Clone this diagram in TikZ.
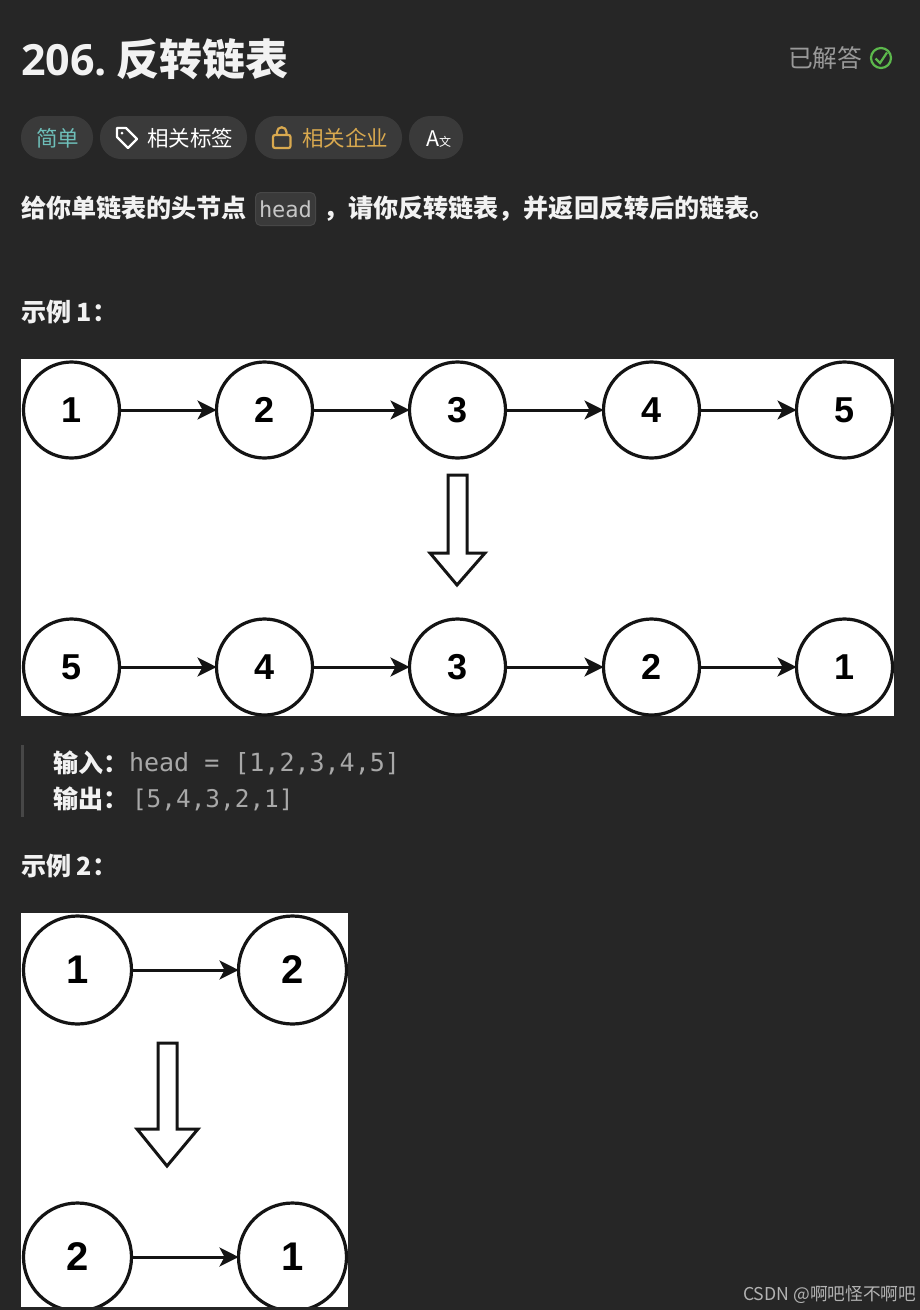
\documentclass[tikz,border=0pt]{standalone}
\usepackage{fontspec}
\setmainfont{Noto Sans CJK SC}
\setmonofont{DejaVu Sans Mono}
\newfontfamily\digitfont{Liberation Sans}
\newfontfamily\latinfont{Open Sans}
\usepackage{xcolor}
\usetikzlibrary{arrows.meta,positioning}
\definecolor{pagebg}{HTML}{262626}
\definecolor{pillbg}{HTML}{3A3A3A}
\definecolor{easyteal}{HTML}{6EBFBA}
\definecolor{lockgold}{HTML}{D9A94F}
\definecolor{donegreen}{HTML}{5CB84C}
\begin{document}
\begin{tikzpicture}[
  x=1pt, y=-1pt,
  >=Stealth,
  every node/.style={inner sep=0pt, outer sep=0pt},
  heading/.style={anchor=base west, text=white!95!black, font=\fontsize{43}{43}\selectfont\bfseries},
  body/.style={anchor=base west, text=white!95!black, font=\fontsize{25.1}{25}\selectfont\bfseries},
  tagtext/.style={anchor=base west, font=\fontsize{21.5}{21.5}\selectfont},
  monotext/.style={anchor=base west, text=white!66!black, font=\fontsize{25}{25}\selectfont\ttfamily},
  pill/.style={fill=pillbg, rounded corners=21pt},
  listnode/.style={circle, draw=black!92, line width=3.2pt, fill=white, minimum size=96pt,
    font=\fontsize{36}{36}\selectfont\digitfont\bfseries},
  bignode/.style={listnode, minimum size=108pt, font=\fontsize{40}{40}\selectfont\digitfont\bfseries},
  link/.style={->, line width=3pt, draw=black!92, >={Stealth[length=19pt,width=19pt,inset=5pt]}},
  blockarrow/.style={draw=black!92, line width=3pt, fill=white, line join=miter},
]
\useasboundingbox (0,0) rectangle (920,1310);

% Page and images
\fill[pagebg] (0,0) rectangle (920,1310);
\fill[white] (21,359) rectangle (894,716);
\fill[white] (21,913) rectangle (348,1307);

% Header
\node[heading] at (21,75) (title) {{\latinfont\bfseries 206.}\hspace{-4pt} 反转链表};
\node[anchor=base west, text=white!60!black, font=\fontsize{24.8}{24.8}\selectfont] at (788,67) (status) {已解答};
\draw[donegreen, line width=2.2pt] (881,58) circle (10);
\draw[donegreen, line width=2.2pt] (875.5,58.5) -- (880,63) -- (887,52.5);

% Tags
\fill[pill] (21,116) rectangle (93,159);
\fill[pill] (100,116) rectangle (247,159);
\fill[pill] (255,116) rectangle (402,159);
\fill[pill] (409,116) rectangle (463,159);
\node[tagtext, text=easyteal] at (36,146) (easy) {简单};
\node[tagtext, text=white] at (147,146) (topics) {相关标签};
\node[tagtext, text=lockgold] at (302,146) (companies) {相关企业};
\node[tagtext, text=white] at (426,146) (lang) {A{\fontsize{12}{12}\selectfont 文}};
\draw[white, line width=2.2pt, line join=round] (117,128) -- (126,128) -- (137,139) -- (128,148) -- (117,137) -- cycle;
\fill[white] (122,133) circle (1.5);
\draw[lockgold, line width=2.2pt, rounded corners=2pt] (273,135) rectangle (290.5,148);
\draw[lockgold, line width=2.2pt] (277,135) -- (277,132) arc[start angle=180, end angle=360, radius=4.75] -- (286.5,135);

% Statement
\node[body] at (21,217.5) (intro) {给你单链表的头节点};
\fill[pillbg, draw=white!28!black, line width=1pt, rounded corners=5pt] (255.5,192.5) rectangle (315.5,225.5);
\node[anchor=base west, text=white!78!black, font=\fontsize{22}{22}\selectfont\ttfamily] at (259,217) (headcode) {head};
\node[body] at (323,217.5) (introrest) {，请你反转链表，并返回反转后的链表。};

% Example 1
\node[body] at (21,321.5) (exone) {示例 1：};
\node[listnode] at (71.5,410) (a1) {1};
\node[listnode] at (264.5,410) (a2) {2};
\node[listnode] at (457.5,410) (a3) {3};
\node[listnode] at (651.5,410) (a4) {4};
\node[listnode] at (844.5,410) (a5) {5};
\node[listnode] at (71.5,667) (b1) {5};
\node[listnode] at (264.5,667) (b2) {4};
\node[listnode] at (457.5,667) (b3) {3};
\node[listnode] at (651.5,667) (b4) {2};
\node[listnode] at (844.5,667) (b5) {1};
\draw[link] (a1) -- (a2);
\draw[link] (a2) -- (a3);
\draw[link] (a3) -- (a4);
\draw[link] (a4) -- (a5);
\draw[link] (b1) -- (b2);
\draw[link] (b2) -- (b3);
\draw[link] (b3) -- (b4);
\draw[link] (b4) -- (b5);
\draw[blockarrow] (448,475) -- (467,475) -- (467,553) -- (485,553) -- (457,585) -- (430,553) -- (448,553) -- cycle;

% Output block
\fill[white!28!black] (21,745) rectangle (24,817);
\node[body] at (53,772) (inlabel) {输入：};
\node[monotext] at (129,771.5) (inval) {head = [1,2,3,4,5]};
\node[body] at (53,808) (outlabel) {输出：};
\node[monotext, font=\fontsize{24.4}{24.4}\selectfont\ttfamily] at (132,807.5) (outval) {[5,4,3,2,1]};

% Example 2
\node[body] at (21,875.5) (extwo) {示例 2：};
\node[bignode] at (77.5,970) (c1) {1};
\node[bignode] at (292.5,970) (c2) {2};
\node[bignode] at (77.5,1257) (d1) {2};
\node[bignode] at (292.5,1257) (d2) {1};
\draw[link] (c1) -- (c2);
\draw[link] (d1) -- (d2);
\draw[blockarrow] (158,1043) -- (177,1043) -- (177,1129) -- (198,1129) -- (167,1166) -- (137,1129) -- (158,1129) -- cycle;

% Image edge cuts the last row
\fill[pagebg] (0,1307) rectangle (400,1310);

% Watermark
\node[anchor=base west, text=white!70!black, font=\fontsize{17.7}{17.7}\selectfont] at (743,1300.5) (mark) {CSDN @啊吧怪不啊吧};

\end{tikzpicture}
\end{document}
